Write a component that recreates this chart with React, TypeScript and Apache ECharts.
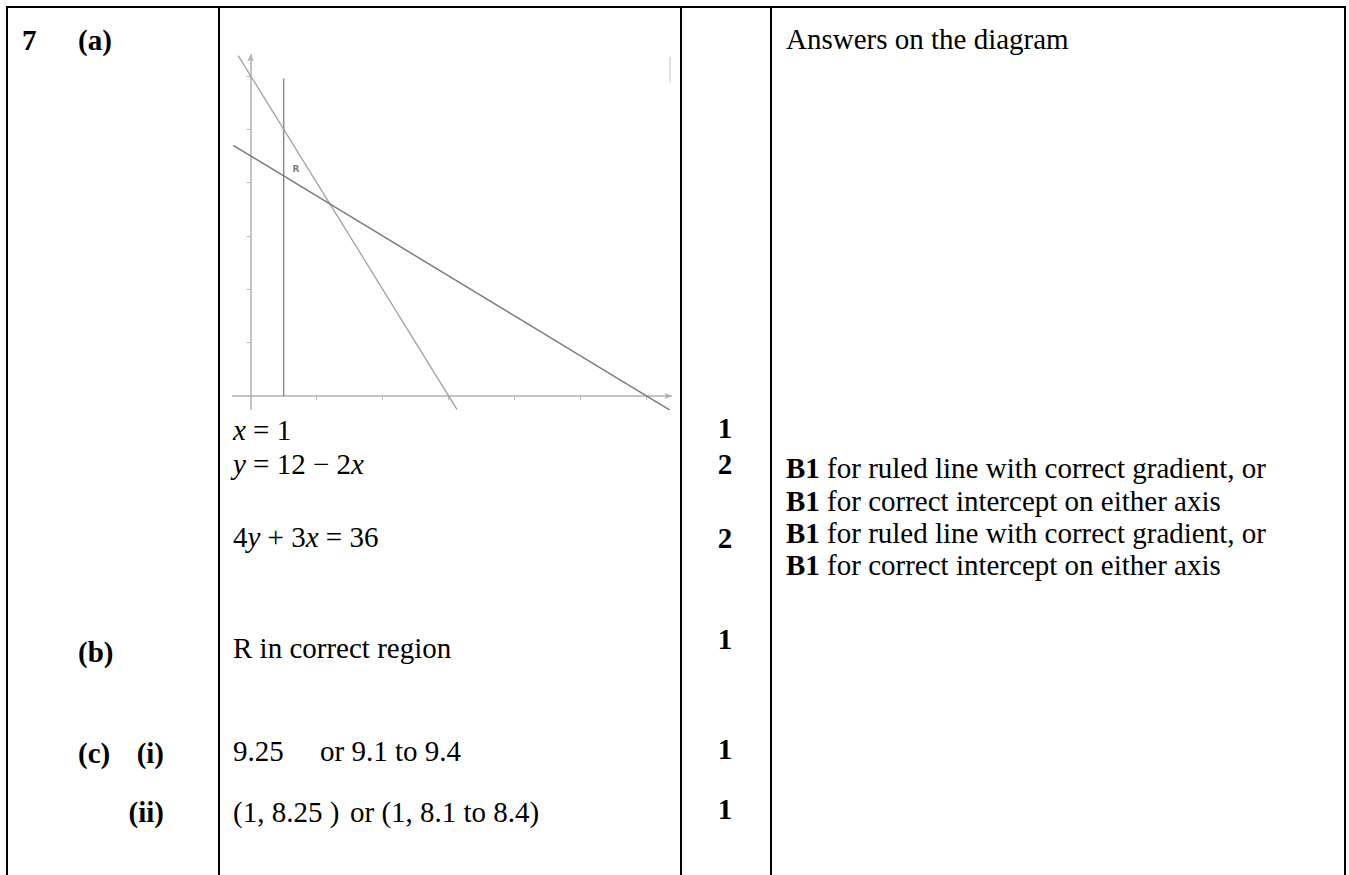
import React, { useEffect, useRef } from "react";
import * as echarts from "echarts";

// ---- chart data ----
const X_TICKS = [0, 2, 4, 6, 8, 10, 12];
const Y_TICKS = [0, 2, 4, 6, 8, 10, 12];
const LINE_X_EQ_1 = [[1, 0], [1, 11.9]]; // x = 1
const LINE_Y_12_2X = [[-0.38, 12.76], [6.25, -0.5]]; // y = 12 − 2x
const LINE_4Y_3X = [[-0.53, 9.4], [12.7, -0.53]]; // 4y + 3x = 36
const REGION_POINT = [[1.37, 8.5]];
const REGION_LABEL = "R";

// ---- table text ----
const Q_NUMBER = "7";
const PART_LABELS = ["(a)", "(b)", "(c)"];
const SUB_LABELS = ["(i)", "(ii)"];
const EQUATIONS = ["{i|x} = 1", "{i|y} = 12 − 2{i|x}", "4{i|y} + 3{i|x} = 36"];
const ANSWER_B = "R in correct region";
const ANSWER_CI = ["9.25", "or 9.1 to 9.4"];
const ANSWER_CII = ["(1, 8.25 )", "or (1, 8.1 to 8.4)"];
const MARKS = ["1", "2", "2", "1", "1", "1"];
const COMMENT_TOP = "Answers on the diagram";
const COMMENTS = [
  "{b|B1} for ruled line with correct gradient, or",
  "{b|B1} for correct intercept on either axis",
  "{b|B1} for ruled line with correct gradient, or",
  "{b|B1} for correct intercept on either axis",
];

const FONT_FAMILY = '"Liberation Serif", "Times New Roman", serif';
const FS = 29;

function txt(x: number, y: number, text: string, opts: any = {}) {
  return {
    type: "text",
    x,
    y,
    silent: true,
    style: {
      text,
      fontFamily: FONT_FAMILY,
      fontSize: FS,
      fontWeight: opts.bold ? "bold" : "normal",
      fill: "#000",
      align: opts.align || "left",
      verticalAlign: "middle",
      rich: opts.rich,
    },
  };
}

function vline(x: number, y1: number, y2: number) {
  return {
    type: "line",
    silent: true,
    shape: { x1: x, y1, x2: x, y2 },
    style: { stroke: "#000", lineWidth: 2 },
  };
}

export default function App() {
  const ref = useRef<HTMLDivElement>(null);

  useEffect(() => {
    if (!ref.current) return;
    const chart = echarts.init(ref.current, undefined, { renderer: "svg" });

    const italicRich = {
      i: { fontFamily: FONT_FAMILY, fontSize: FS, fontStyle: "italic", fill: "#000" },
    };
    const boldRich = {
      b: { fontFamily: FONT_FAMILY, fontSize: FS, fontWeight: "bold", fill: "#000" },
    };

    const eqY = [430, 464, 537];
    const commentY = [468, 501, 533, 565];
    const markY = [428, 464, 538, 639, 749, 809];

    const graphics: any[] = [
      // table borders
      {
        type: "line",
        silent: true,
        shape: { x1: 6, y1: 7, x2: 1346, y2: 7 },
        style: { stroke: "#000", lineWidth: 2 },
      },
      vline(7, 6, 875),
      vline(219, 7, 875),
      vline(681, 7, 875),
      vline(771, 7, 875),
      vline(1345, 6, 875),
      // faint mark near the plot's top right
      {
        type: "line",
        silent: true,
        shape: { x1: 670, y1: 57, x2: 670, y2: 83 },
        style: { stroke: "#d8d8d8", lineWidth: 1.5 },
      },
      // left column labels
      txt(22, 40, Q_NUMBER, { bold: true }),
      txt(78, 40, PART_LABELS[0], { bold: true }),
      txt(78, 652, PART_LABELS[1], { bold: true }),
      txt(78, 753, PART_LABELS[2], { bold: true }),
      txt(164, 753, SUB_LABELS[0], { bold: true, align: "right" }),
      txt(164, 812, SUB_LABELS[1], { bold: true, align: "right" }),
      // answers column
      ...EQUATIONS.map((e, i) => txt(233, eqY[i], e, { rich: italicRich })),
      txt(233, 648, ANSWER_B),
      txt(233, 751, ANSWER_CI[0]),
      txt(320, 751, ANSWER_CI[1]),
      txt(233, 812, ANSWER_CII[0]),
      txt(350, 812, ANSWER_CII[1]),
      // marks column
      ...MARKS.map((m, i) => txt(725, markY[i], m, { bold: true, align: "center" })),
      // comments column
      txt(786, 39, COMMENT_TOP),
      ...COMMENTS.map((c, i) => txt(786, commentY[i], c, { rich: boldRich })),
    ];

    const axisCommon = {
      type: "value" as const,
      splitLine: { show: false },
      axisLabel: { show: false },
      axisLine: {
        show: true,
        onZero: true,
        symbol: ["none", "arrow"],
        symbolSize: [5, 7],
        lineStyle: { color: "#b0b0b0", width: 1.5 },
      },
      axisTick: {
        show: true,
        length: 4,
        lineStyle: { color: "#b8b8b8", width: 1 },
      },
    };

    chart.setOption({
      animation: false,
      backgroundColor: "#fff",
      grid: { left: 232.5, top: 54.6, width: 439, height: 354.7, containLabel: false },
      xAxis: {
        ...axisCommon,
        min: -0.55,
        max: 12.75,
        axisTick: { ...axisCommon.axisTick, customValues: X_TICKS },
      },
      yAxis: {
        ...axisCommon,
        min: -0.5,
        max: 12.8,
        axisTick: { ...axisCommon.axisTick, customValues: Y_TICKS },
      },
      series: [
        {
          type: "line",
          data: LINE_X_EQ_1,
          symbol: "none",
          lineStyle: { color: "#8c8c8c", width: 1.5 },
          silent: true,
        },
        {
          type: "line",
          data: LINE_Y_12_2X,
          symbol: "none",
          lineStyle: { color: "#a0a0a0", width: 1.3 },
          silent: true,
        },
        {
          type: "line",
          data: LINE_4Y_3X,
          symbol: "none",
          lineStyle: { color: "#7c7c7c", width: 1.5 },
          silent: true,
        },
        {
          type: "scatter",
          data: REGION_POINT,
          symbolSize: 0,
          silent: true,
          label: {
            show: true,
            position: "inside",
            formatter: REGION_LABEL,
            fontFamily: "DejaVu Sans",
            fontSize: 9,
            fontWeight: "bold",
            color: "#555",
          },
        },
      ],
      graphic: graphics,
    });

    return () => chart.dispose();
  }, []);

  return (
    <div
      ref={ref}
      style={{ position: "fixed", left: 0, top: 0, width: 1349, height: 875, background: "#fff" }}
    />
  );
}
